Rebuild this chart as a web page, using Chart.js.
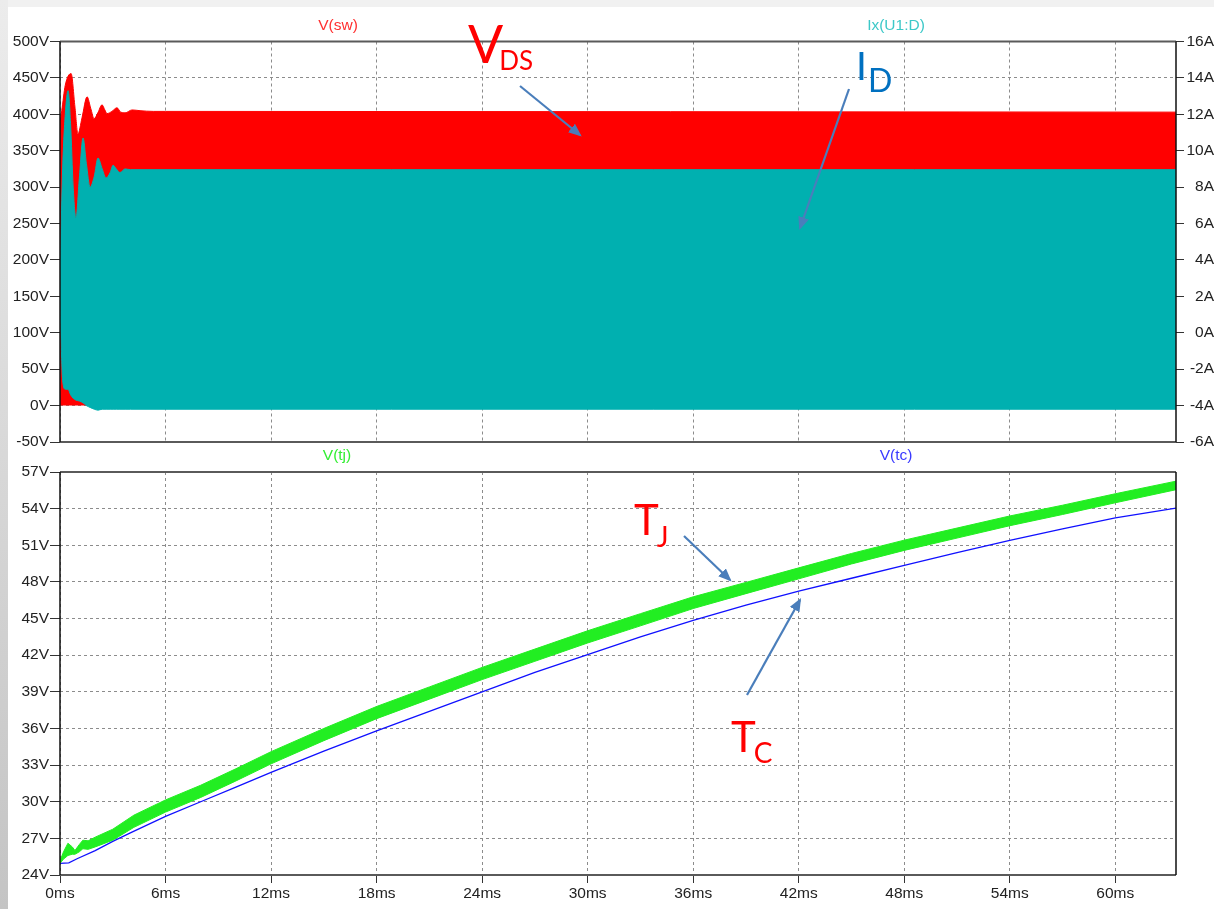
<!DOCTYPE html>
<html>
<head>
<meta charset="utf-8">
<script src="https://cdn.jsdelivr.net/npm/chart.js@4.4.1/dist/chart.umd.min.js"></script>
<style>
  html, body { margin: 0; padding: 0; background: #fff; }
  body { width: 1214px; height: 909px; position: relative; overflow: hidden; font-family: 'Liberation Sans', Arial, sans-serif; }
  .edge-left { position: absolute; left: 0; top: 0; width: 8px; height: 909px; background: linear-gradient(#ececec, #c4c4c4); }
  .edge-top { position: absolute; left: 8px; top: 0; width: 1206px; height: 7px; background: #f1f1f1; }
  canvas { position: absolute; left: 0; }
  #swChart { top: 0; }
  #thermChart { top: 455px; }
  .trace { position: absolute; font-size: 15.5px; transform: translate(-50%, -50%); white-space: nowrap; }
  svg.notes { position: absolute; left: 0; top: 0; }
</style>
</head>
<body>
<div class="edge-left"></div>
<div class="edge-top"></div>
<canvas id="swChart" width="1214" height="455"></canvas>
<canvas id="thermChart" width="1214" height="454"></canvas>

<div class="trace" style="left:338px; top:25px; color:#ff3030;">V(sw)</div>
<div class="trace" style="left:896px; top:25px; color:#3cc8c8;">Ix(U1:D)</div>
<div class="trace" style="left:337px; top:455px; color:#33ee33;">V(tj)</div>
<div class="trace" style="left:896px; top:455px; color:#3a3aff;">V(tc)</div>

<svg class="notes" width="1214" height="909">
  <defs>
    <marker id="head" markerWidth="6" markerHeight="5" refX="5" refY="2.5" orient="auto" markerUnits="strokeWidth">
      <path d="M0,0 L6,2.5 L0,5 z" fill="#4a7ebb"/>
    </marker>
  </defs>
  <g stroke="#4a7ebb" stroke-width="2.2" marker-end="url(#head)">
    <line x1="520" y1="86" x2="580" y2="135"/>
    <line x1="849" y1="89" x2="800" y2="228"/>
    <line x1="684" y1="536" x2="730" y2="580"/>
    <line x1="747" y1="695" x2="800" y2="600"/>
  </g>
  <g font-family="Lato, 'Open Sans', sans-serif">
    <text x="468" y="63" font-size="52" fill="#ff0000">V<tspan dx="-4" dy="7" font-size="26">DS</tspan></text>
    <text x="856" y="80" font-size="39" fill="#0070c0">I<tspan dx="1" dy="12" font-size="32">D</tspan></text>
    <text x="634" y="535" font-size="42" fill="#ff0000">T<tspan dx="-2" dy="12" font-size="28">J</tspan></text>
    <text x="731" y="752" font-size="42" fill="#ff0000">T<tspan dx="-2" dy="11" font-size="28">C</tspan></text>
  </g>
</svg>

<script>
// ── axis ticks ──
const msTicks = [0, 6, 12, 18, 24, 30, 36, 42, 48, 54, 60];
const tEnd = 63.45;
const voltTicks = [-50, 0, 50, 100, 150, 200, 250, 300, 350, 400, 450, 500];
const ampTicks = [-6, -4, -2, 0, 2, 4, 6, 8, 10, 12, 14, 16];
const tempTicks = [24, 27, 30, 33, 36, 39, 42, 45, 48, 51, 54, 57];

// ── V(sw): upper envelope of the switching node (V) ──
const swTime = [0, 0.1, 0.3, 0.63, 0.85, 1.02, 1.25, 1.54, 1.75, 1.94, 2.15, 2.39, 2.55, 2.67, 2.95, 3.24, 3.45, 3.7, 4.1, 4.55, 5.3, 6.0, 63.45];
const swHigh = [390, 405, 440, 456, 410, 373, 395, 424, 408, 394, 402, 413, 406, 401, 404, 409, 403, 402, 406, 405, 404, 404, 403];

// ── Ix(U1:D): upper / lower envelope of drain current (A) ──
const idTime = [0, 0.05, 0.15, 0.3, 0.46, 0.6, 0.75, 0.91, 1.1, 1.31, 1.5, 1.71, 1.95, 2.16, 2.4, 2.62, 2.85, 3.02, 3.2, 3.41, 3.7, 4.0, 63.45];
const idHigh = [2, 5, 9, 12, 13.3, 11.5, 8.0, 6.3, 8.5, 10.7, 9.3, 8.0, 8.6, 9.6, 9.0, 8.5, 8.8, 9.2, 9.0, 8.8, 9.0, 8.96, 8.96];
const idLow = [2, 0, -2.6, -3.1, -3.1, -3.4, -3.6, -3.7, -3.75, -3.85, -4.0, -4.1, -4.2, -4.25, -4.2, -4.2, -4.2, -4.2, -4.2, -4.2, -4.2, -4.2, -4.2];

// ── V(tj): junction temperature ripple band ──
const tjTime = [0, 0.2, 0.45, 0.7, 0.85, 1.1, 1.3, 1.6, 2, 3, 4.2, 6, 8, 10, 12, 15, 18, 21, 24, 27, 30, 33, 36, 39, 42, 45, 48, 51, 54, 57, 60, 63.45];
const tjHigh = [25.15, 25.9, 26.6, 26.3, 26.0, 26.5, 26.85, 26.8, 27.1, 27.75, 28.9, 30.15, 31.35, 32.7, 34.1, 36.0, 37.8, 39.4, 41.0, 42.5, 44.0, 45.4, 46.78, 47.96, 49.15, 50.33, 51.42, 52.41, 53.4, 54.28, 55.22, 56.25];
const tjLow = [24.95, 25.3, 25.6, 25.7, 25.7, 25.9, 26.15, 26.1, 26.3, 26.85, 27.9, 29.15, 30.35, 31.7, 33.1, 35.0, 36.8, 38.4, 40.0, 41.5, 43.0, 44.4, 45.82, 47.04, 48.25, 49.47, 50.58, 51.59, 52.6, 53.52, 54.48, 55.55];

// ── V(tc): case temperature ──
const tcTime = [0, 0.5, 1, 2, 3, 4, 6, 8, 10, 12, 15, 18, 21, 24, 27, 30, 33, 36, 39, 42, 45, 48, 51, 54, 57, 60, 63.45];
const tcVal = [24.95, 25.0, 25.35, 26.0, 26.75, 27.45, 28.8, 30.0, 31.2, 32.4, 34.15, 35.8, 37.4, 39.0, 40.6, 42.05, 43.5, 44.85, 46.1, 47.25, 48.3, 49.35, 50.4, 51.4, 52.35, 53.25, 54.05];

const pts = (xs, ys) => xs.map((x, i) => ({ x, y: ys[i] }));

const gridCol = '#8c8c8c';
const labelCol = '#222';
const tickFont = { family: "'Liberation Sans', Arial, sans-serif", size: 15.5 };

const setTicks = list => scale => { scale.ticks = list.map(v => ({ value: v })); };

const framePlugin = {
  id: 'frame',
  afterDatasetsDraw(chart) {
    const { ctx, chartArea: a } = chart;
    ctx.save();
    ctx.lineWidth = 2;
    ctx.strokeStyle = '#5a5a5a';
    ctx.beginPath();
    ctx.moveTo(a.left, a.top); ctx.lineTo(a.right, a.top);
    ctx.moveTo(a.left, a.bottom); ctx.lineTo(a.right, a.bottom);
    ctx.stroke();
    ctx.lineWidth = 1.5;
    ctx.strokeStyle = '#111';
    ctx.beginPath();
    ctx.moveTo(a.left, a.top); ctx.lineTo(a.left, a.bottom);
    ctx.moveTo(a.right, a.top); ctx.lineTo(a.right, a.bottom);
    ctx.stroke();
    ctx.restore();
  }
};

const baseOpts = {
  responsive: false,
  animation: false,
  events: [],
  devicePixelRatio: 1,
  plugins: { legend: { display: false }, tooltip: { enabled: false } },
  elements: { point: { radius: 0 } }
};

// ── Switching waveforms ──
new Chart(document.getElementById('swChart'), {
  type: 'line',
  data: {
    datasets: [
      {
        data: pts(idTime, idHigh), yAxisID: 'yA',
        borderColor: '#00b0b0', backgroundColor: '#00b0b0', borderWidth: 1,
        fill: '+1', cubicInterpolationMode: 'monotone'
      },
      {
        data: pts(idTime, idLow), yAxisID: 'yA',
        borderColor: '#00b0b0', borderWidth: 1, fill: false,
        cubicInterpolationMode: 'monotone'
      },
      {
        data: pts(swTime, swHigh), yAxisID: 'yV',
        borderColor: '#ff0000', backgroundColor: '#ff0000', borderWidth: 1,
        fill: 'origin', cubicInterpolationMode: 'monotone'
      }
    ]
  },
  options: {
    ...baseOpts,
    layout: { padding: { top: 41.5, left: 0, right: 0, bottom: 0 } },
    scales: {
      x: {
        type: 'linear', min: 0, max: tEnd,
        afterBuildTicks: setTicks(msTicks),
        ticks: { display: false },
        grid: { color: gridCol, drawTicks: false },
        border: { display: false, dash: [3, 3] },
        afterFit: s => { s.height = 13; }
      },
      yV: {
        position: 'left', min: voltTicks[0], max: voltTicks[voltTicks.length - 1],
        afterBuildTicks: setTicks(voltTicks),
        ticks: { color: labelCol, font: tickFont, padding: 1, callback: v => v + 'V' },
        grid: { color: gridCol, tickColor: '#333', tickLength: 10 },
        border: { display: false, dash: [3, 3] },
        afterFit: s => { s.width = 60; }
      },
      yA: {
        position: 'right', min: ampTicks[0], max: ampTicks[ampTicks.length - 1],
        afterBuildTicks: setTicks(ampTicks),
        ticks: { color: labelCol, font: tickFont, crossAlign: 'far', callback: v => v + 'A' },
        grid: { drawOnChartArea: false, tickColor: '#333', tickLength: 8 },
        border: { display: false },
        afterFit: s => { s.width = 38; }
      }
    }
  },
  plugins: [framePlugin]
});

// ── Junction / case temperature ──
new Chart(document.getElementById('thermChart'), {
  type: 'line',
  data: {
    datasets: [
      {
        data: pts(tjTime, tjHigh),
        borderColor: '#22ee22', backgroundColor: '#22ee22', borderWidth: 1, fill: '+1'
      },
      {
        data: pts(tjTime, tjLow),
        borderColor: '#22ee22', borderWidth: 1, fill: false
      },
      {
        data: pts(tcTime, tcVal),
        borderColor: '#1010ff', borderWidth: 1.3, fill: false
      }
    ]
  },
  options: {
    ...baseOpts,
    layout: { padding: { top: 17, left: 0, right: 38, bottom: 0 } },
    scales: {
      x: {
        type: 'linear', min: 0, max: tEnd,
        afterBuildTicks: setTicks(msTicks),
        ticks: { color: labelCol, font: tickFont, padding: 1, maxRotation: 0, autoSkip: false, callback: v => v + 'ms' },
        grid: { color: gridCol, tickColor: '#333', tickLength: 8 },
        border: { display: false, dash: [3, 3] },
        afterFit: s => { s.height = 34; }
      },
      y: {
        position: 'left', min: tempTicks[0], max: tempTicks[tempTicks.length - 1],
        afterBuildTicks: setTicks(tempTicks),
        ticks: { color: labelCol, font: tickFont, padding: 1, callback: v => v + 'V' },
        grid: { color: gridCol, tickColor: '#333', tickLength: 10 },
        border: { display: false, dash: [3, 3] },
        afterFit: s => { s.width = 60; }
      }
    }
  },
  plugins: [framePlugin]
});
</script>
</body>
</html>
